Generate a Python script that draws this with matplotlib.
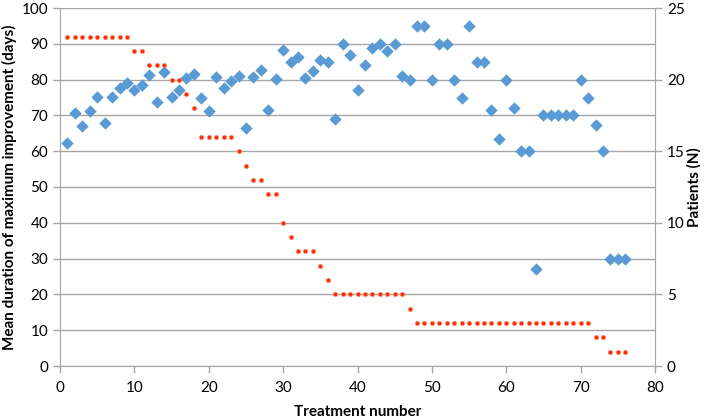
import matplotlib
matplotlib.use("Agg")
import matplotlib.pyplot as plt

plt.rcParams['font.family'] = ['Lato', 'DejaVu Sans']

# treatment numbers 1..76
treatment = list(range(1, 77))

# mean duration of maximum improvement (days)
duration = [62.4, 70.6, 67.0, 71.1, 75.1, 68.0, 75.2, 77.7, 79.1, 77.0,
            78.4, 81.3, 73.8, 82.2, 75.1, 77.0, 80.5, 81.6, 74.9, 71.1,
            80.8, 77.7, 79.7, 81.1, 66.6, 80.6, 82.8, 71.6, 80.3, 88.4,
            84.9, 86.2, 80.5, 82.5, 85.6, 84.9, 69.0, 89.9, 87.0, 77.0,
            84.0, 88.9, 89.9, 88.0, 89.9, 81.0, 80.0, 95.0, 95.0, 80.0,
            89.9, 89.9, 80.0, 75.0, 95.0, 84.9, 84.9, 71.6, 63.3, 80.0,
            72.2, 60.0, 60.0, 27.2, 70.0, 70.0, 70.0, 70.0, 70.0, 80.0,
            75.0, 67.4, 60.0, 30.0, 30.0, 30.0]

# number of patients per treatment
patients = [23, 23, 23, 23, 23, 23, 23, 23, 23, 22,
            22, 21, 21, 21, 20, 20, 19, 18, 16, 16,
            16, 16, 16, 15, 14, 13, 13, 12, 12, 10,
            9, 8, 8, 8, 7, 6, 5, 5, 5, 5,
            5, 5, 5, 5, 5, 5, 4, 3, 3, 3,
            3, 3, 3, 3, 3, 3, 3, 3, 3, 3,
            3, 3, 3, 3, 3, 3, 3, 3, 3, 3,
            3, 2, 2, 1, 1, 1]

grey = "#A6A6A6"

fig = plt.figure(figsize=(7.09, 4.18), dpi=100)
ax = fig.add_axes([60/709, 1 - 366/418, 595/709, 358/418])
ax2 = ax.twinx()

ax.scatter(treatment, duration, marker="D", s=40, color="#5B9BD5", zorder=3,
           linewidths=0)
ax2.scatter(treatment, patients, marker="o", s=9, color="#FF2A00", zorder=3,
            edgecolors="#FF8060", linewidths=0.5)

ax.set_xlim(0, 80)
ax.set_ylim(0, 100)
ax2.set_ylim(0, 25)
ax.set_xticks(range(0, 81, 10))
ax.set_yticks(range(0, 101, 10))
ax2.set_yticks(range(0, 26, 5))

ax.yaxis.grid(True, color=grey, linewidth=1)
ax.set_axisbelow(True)

for a in (ax, ax2):
    for s in a.spines.values():
        s.set_visible(False)
    a.tick_params(colors=grey, labelcolor="black", labelsize=11, length=5,
                  width=1, direction="out")
ax.tick_params(axis="x", pad=6)
ax.spines["left"].set_visible(True)
ax.spines["left"].set_color(grey)
ax.spines["bottom"].set_visible(True)
ax.spines["bottom"].set_color(grey)
ax2.spines["right"].set_visible(True)
ax2.spines["right"].set_color(grey)

ax.set_xlabel("Treatment number", fontsize=11, fontweight="bold", labelpad=7)
ax.set_ylabel("Mean duration of maximum improvement (days)", fontsize=11,
              fontweight="bold")
ax.yaxis.set_label_coords(-0.073, 0.5)
ax2.set_ylabel("Patients (N)", fontsize=11, fontweight="bold", labelpad=2)

fig.savefig("out.png", dpi=100)
